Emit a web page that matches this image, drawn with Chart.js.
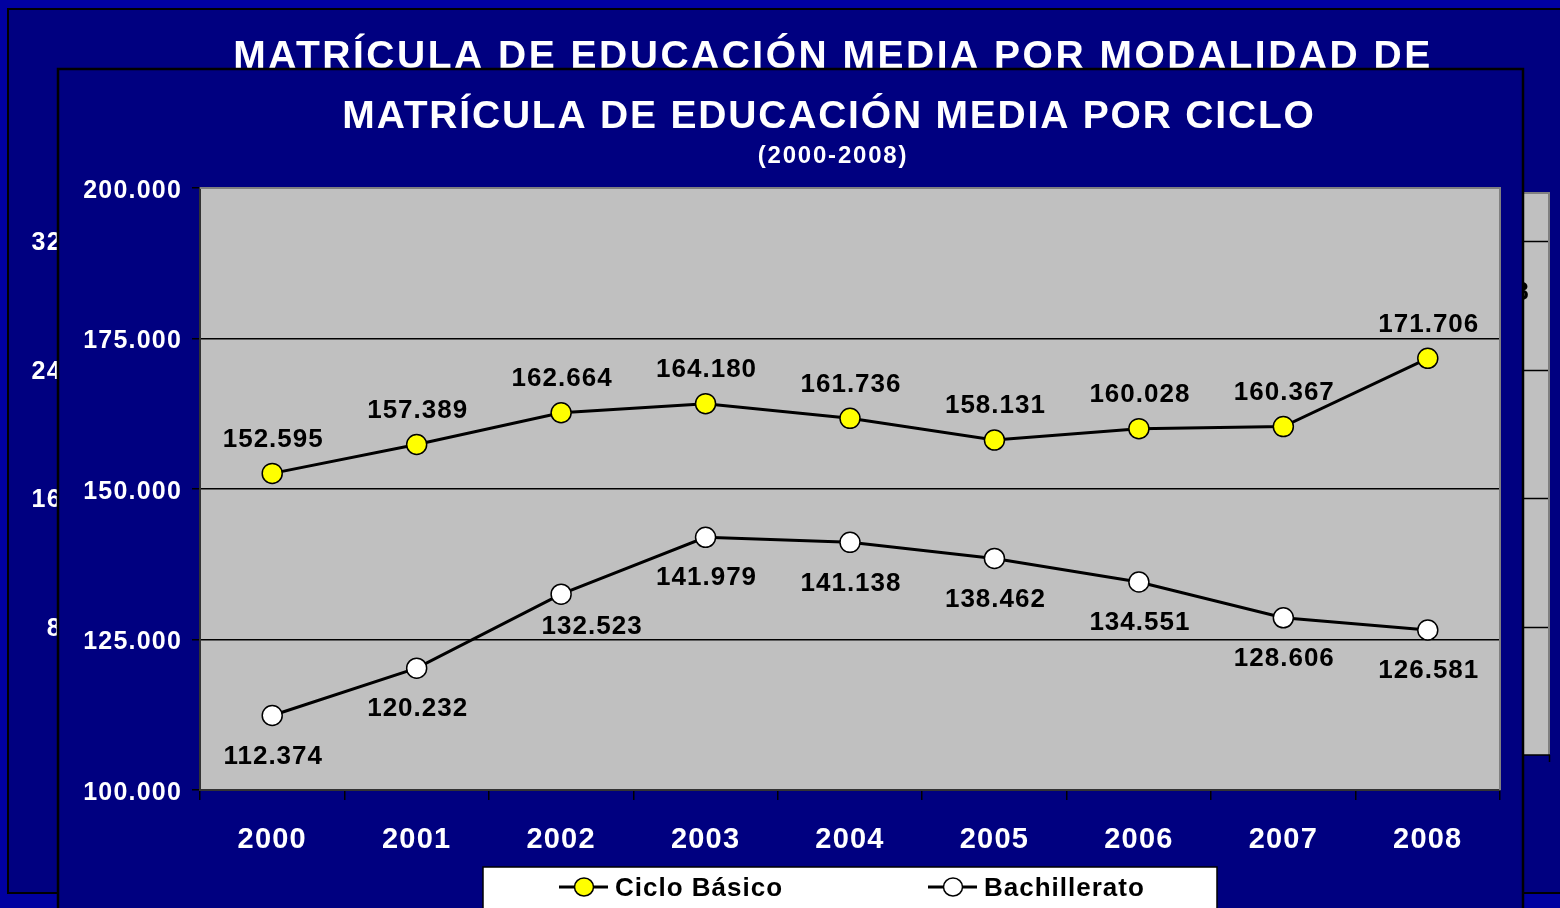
<!DOCTYPE html>
<html>
<head>
<meta charset="utf-8">
<title>Matrícula de Educación Media por Ciclo</title>
<script src="https://cdn.jsdelivr.net/npm/chart.js@4.4.1/dist/chart.umd.min.js"></script>
<style>
  html, body { margin: 0; padding: 0; background: #0000a0; overflow: hidden; }
  canvas { display: block; }
</style>
</head>
<body>
<canvas id="chart" width="1560" height="908"></canvas>
<script>
// data
const years = ['2000', '2001', '2002', '2003', '2004', '2005', '2006', '2007', '2008'];
const cicloBasico = [152595, 157389, 162664, 164180, 161736, 158131, 160028, 160367, 171706];
const bachillerato = [112374, 120232, 132523, 141979, 141138, 138462, 134551, 128606, 126581];
const seriesNames = ['Ciclo Básico', 'Bachillerato'];

// text of the slide and of the chart hidden behind it
const backTitle = 'MATRÍCULA DE EDUCACIÓN MEDIA POR MODALIDAD DE';
const mainTitle = 'MATRÍCULA DE EDUCACIÓN MEDIA POR CICLO';
const subTitle = '(2000-2008)';
const backTicks = ['320.000', '240.000', '160.000', '80.000'];

const FONT = "'Liberation Sans', Arial, sans-serif";
const NAVY = '#000080';
const fmt = v => String(v).replace(/\B(?=(\d{3})+(?!\d))/g, '.');

Chart.defaults.font.family = FONT;

// slide frame, hidden chart, titles and plot background
const slideBg = {
  id: 'slideBg',
  beforeDraw(chart) {
    const ctx = chart.ctx, W = chart.width, H = chart.height, a = chart.chartArea;
    ctx.save();
    ctx.fillStyle = '#0000a0';
    ctx.fillRect(0, 0, W, H);

    // chart behind
    ctx.fillStyle = NAVY;
    ctx.fillRect(8, 9, W, 884);
    ctx.strokeStyle = '#000'; ctx.lineWidth = 2;
    ctx.strokeRect(8, 9, W + 10, 884);

    ctx.fillStyle = '#fff';
    ctx.font = 'bold 39px ' + FONT;
    ctx.letterSpacing = '2.5px';
    ctx.textAlign = 'center'; ctx.textBaseline = 'alphabetic';
    ctx.fillText(backTitle, 833, 68);

    ctx.font = 'bold 25px ' + FONT;
    ctx.letterSpacing = '1.3px';
    ctx.textAlign = 'right'; ctx.textBaseline = 'middle';
    backTicks.forEach((t, i) => ctx.fillText(t, 131, 243 + i * 128.7));

    ctx.fillStyle = '#c0c0c0';
    ctx.fillRect(1523, 193, 26, 562);
    ctx.fillStyle = '#808080';
    ctx.fillRect(1548, 193, 2, 562);
    ctx.fillRect(1523, 192, 27, 2);
    ctx.strokeStyle = '#000'; ctx.lineWidth = 1.5;
    ctx.beginPath();
    for (let i = 0; i < 4; i++) {
      const y = Math.round(241 + i * 128.7) + 0.5;
      ctx.moveTo(1523, y); ctx.lineTo(1548, y);
    }
    ctx.moveTo(1523, 755); ctx.lineTo(1550, 755);
    ctx.moveTo(1549.5, 755); ctx.lineTo(1549.5, 762);
    ctx.stroke();
    ctx.fillStyle = '#000';
    ctx.textAlign = 'right';
    ctx.fillText('8', 1530, 293);

    // front chart box
    ctx.fillStyle = NAVY;
    ctx.fillRect(58, 69, 1465, H);
    ctx.strokeStyle = '#000'; ctx.lineWidth = 2.5;
    ctx.strokeRect(58, 69, 1465, H + 10);

    ctx.fillStyle = '#fff';
    ctx.textAlign = 'center'; ctx.textBaseline = 'alphabetic';
    ctx.font = 'bold 39px ' + FONT;
    ctx.letterSpacing = '1.8px';
    ctx.fillText(mainTitle, 829, 128);
    ctx.font = 'bold 24px ' + FONT;
    ctx.letterSpacing = '1.8px';
    ctx.fillText(subTitle, 833, 163);

    ctx.fillStyle = '#c0c0c0';
    ctx.fillRect(a.left, a.top, a.right - a.left, a.bottom - a.top);
    ctx.restore();
    ctx.letterSpacing = '1.2px';
  },
  beforeDatasetsDraw(chart) {
    const ctx = chart.ctx, a = chart.chartArea;
    ctx.save();
    ctx.fillStyle = '#808080';
    ctx.fillRect(a.left, a.top - 1, a.right - a.left + 1, 2);
    ctx.fillRect(a.right - 1, a.top - 1, 2, a.bottom - a.top + 1);
    ctx.restore();
  }
};

// value labels above / below the points
const valueLabels = {
  id: 'valueLabels',
  afterDatasetsDraw(chart) {
    const ctx = chart.ctx;
    ctx.save();
    ctx.font = 'bold 26px ' + FONT;
    ctx.letterSpacing = '1px';
    ctx.fillStyle = '#000';
    ctx.textAlign = 'center'; ctx.textBaseline = 'middle';
    chart.data.datasets.forEach((ds, di) => {
      chart.getDatasetMeta(di).data.forEach((pt, i) => {
        let dx = 0, dy = di === 0 ? -34 : 41;
        if (di === 1 && i === 2) { dx = 30; dy = 33; }
        ctx.fillText(fmt(ds.data[i]), pt.x + dx + 1, pt.y + dy);
      });
    });
    ctx.restore();
  }
};

// legend box at the bottom
const bottomLegend = {
  id: 'bottomLegend',
  afterDraw(chart) {
    const ctx = chart.ctx;
    ctx.save();
    ctx.fillStyle = '#fff';
    ctx.fillRect(483, 867, 734, 60);
    ctx.strokeStyle = '#000'; ctx.lineWidth = 1.5;
    ctx.strokeRect(483, 867, 734, 60);
    const xs = [584, 953];
    ctx.font = 'bold 26px ' + FONT;
    ctx.letterSpacing = '1px';
    ctx.textAlign = 'left'; ctx.textBaseline = 'middle';
    chart.data.datasets.forEach((ds, i) => {
      const cx = xs[i], cy = 887;
      ctx.strokeStyle = ds.borderColor; ctx.lineWidth = 3;
      ctx.beginPath(); ctx.moveTo(cx - 25, cy); ctx.lineTo(cx + 24, cy); ctx.stroke();
      ctx.fillStyle = ds.pointBackgroundColor;
      ctx.lineWidth = 1.5;
      ctx.beginPath(); ctx.ellipse(cx, cy, 9.5, 9, 0, 0, Math.PI * 2); ctx.fill(); ctx.stroke();
      ctx.fillStyle = '#000';
      ctx.fillText(ds.label, cx + 31, cy + 2);
    });
    ctx.restore();
  }
};

new Chart(document.getElementById('chart'), {
  type: 'line',
  data: {
    labels: years,
    datasets: [
      { label: seriesNames[0], data: cicloBasico, borderColor: '#000', borderWidth: 3,
        pointBackgroundColor: '#ffff00', pointBorderColor: '#000', pointBorderWidth: 1.5,
        pointRadius: 10, tension: 0 },
      { label: seriesNames[1], data: bachillerato, borderColor: '#000', borderWidth: 3,
        pointBackgroundColor: '#ffffff', pointBorderColor: '#000', pointBorderWidth: 1.5,
        pointRadius: 10, tension: 0 }
    ]
  },
  options: {
    responsive: false,
    devicePixelRatio: 1,
    animation: false,
    layout: { padding: { left: 0, top: 188, right: 60, bottom: 0 } },
    plugins: { legend: { display: false }, title: { display: false }, tooltip: { enabled: false } },
    scales: {
      x: {
        offset: true,
        grid: { display: true, drawOnChartArea: false, tickLength: 10, color: '#000', lineWidth: 1.5, offset: true },
        border: { color: '#333', width: 2 },
        ticks: { color: '#fff', font: { size: 29, weight: 'bold' }, padding: 23, maxRotation: 0, autoSkip: false },
        afterFit: s => { s.height = 118; }
      },
      y: {
        min: 100000, max: 200000,
        grid: { color: '#000', lineWidth: 1.5, tickLength: 8 },
        border: { color: '#333', width: 2 },
        ticks: { stepSize: 25000, color: '#fff', font: { size: 25, weight: 'bold' }, padding: 10, labelOffset: 3, callback: v => fmt(v) },
        afterFit: s => { s.width = 200; }
      }
    }
  },
  plugins: [slideBg, valueLabels, bottomLegend]
});
</script>
</body>
</html>
